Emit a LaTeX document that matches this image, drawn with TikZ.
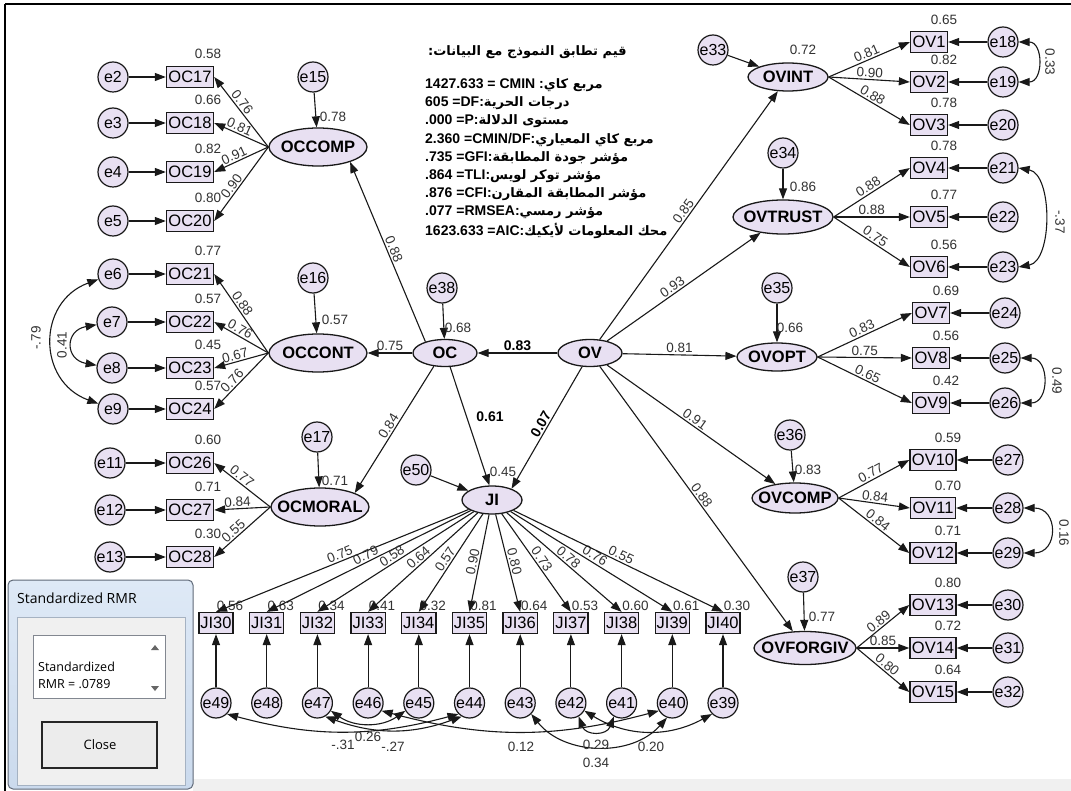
\documentclass[tikz,border=0pt]{standalone}
\usepackage{fontspec}
\setmainfont{Liberation Sans}
\newfontfamily\arfont[Script=Arabic]{DejaVu Sans}
\newfontfamily\uifont{Open Sans}
\usetikzlibrary{shapes.geometric,arrows.meta,calc}
\TeXXeTstate=1
\definecolor{fillc}{RGB}{232,224,242}
\definecolor{linec}{RGB}{25,25,25}
\definecolor{numc}{RGB}{50,50,50}
\definecolor{bandc}{RGB}{240,240,240}
\newcommand{\ctr}[1]{\makebox[0pt]{#1}}
\newcommand{\artxt}[1]{{\arfont\bfseries\fontsize{13}{13}\selectfont\beginR #1\endR}}
\tikzset{
 lat/.style={ellipse, draw=linec, line width=1.3pt, fill=fillc, inner sep=0pt, font=\bfseries\fontsize{16.5}{16.5}\selectfont},
 obs/.style={rectangle, draw=linec, line width=1.3pt, fill=fillc, inner sep=2pt, minimum height=21pt, font=\fontsize{16.5}{16.5}\selectfont},
 err/.style={circle, draw=linec, line width=1.2pt, fill=fillc, minimum size=30pt, inner sep=0pt, font=\fontsize{16}{16}\selectfont},
 num/.style={font=\fontsize{13.5}{13.5}\selectfont, text=numc, inner sep=1.5pt},
 numb/.style={font=\bfseries\fontsize{14}{14}\selectfont, text=black, inner sep=1.5pt},
 arr/.style={draw=linec, line width=1.1pt, -{Triangle[length=11pt,width=8pt]}},
 cov/.style={draw=linec, line width=1.1pt, {Triangle[length=11pt,width=8pt]}-{Triangle[length=11pt,width=8pt]}},
 fitline/.style={anchor=west, inner sep=0pt, font=\bfseries\fontsize{14}{14}\selectfont},
}
\begin{document}
\begin{tikzpicture}[x=1pt,y=-1pt]
\useasboundingbox (0,0) rectangle (1071,791);
\fill[white] (0,0) rectangle (1071,791);
\fill[bandc] (193,779) rectangle (1071,791);
\draw[line width=2.2pt] (5,4) -- (1071,4);
\draw[line width=2.2pt] (5,4) -- (5,791);

% ---------- latent variables ----------
\node[lat, minimum width=98pt, minimum height=38pt] (OCCOMP) at (318,147) {\ctr{OCCOMP}};
\node[lat, minimum width=98pt, minimum height=38pt] (OCCONT) at (318,353) {\ctr{OCCONT}};
\node[lat, minimum width=98pt, minimum height=38pt] (OCMORAL) at (320,507) {\ctr{OCMORAL}};
\node[lat, minimum width=64pt, minimum height=27pt] (OC) at (445,353) {\ctr{OC}};
\node[lat, minimum width=64pt, minimum height=27pt] (OV) at (590,353) {\ctr{OV}};
\node[lat, minimum width=60pt, minimum height=28pt] (JI) at (492,500) {\ctr{JI}};
\node[lat, minimum width=80pt, minimum height=28pt] (OVINT) at (788,77) {\ctr{OVINT}};
\node[lat, minimum width=100pt, minimum height=34pt] (OVTRUST) at (783,217) {\ctr{OVTRUST}};
\node[lat, minimum width=80pt, minimum height=28pt] (OVOPT) at (777,357) {\ctr{OVOPT}};
\node[lat, minimum width=86pt, minimum height=30pt] (OVCOMP) at (795,498) {\ctr{OVCOMP}};
\node[lat, minimum width=102pt, minimum height=33pt] (OVFORGIV) at (805,648) {\ctr{OVFORGIV}};

% ---------- disturbances ----------
\node[err] (e15) at (313,77) {\ctr{e15}};
\node[err] (e16) at (313,278) {\ctr{e16}};
\node[err] (e17) at (317,437) {\ctr{e17}};
\node[err] (e38) at (442,288) {\ctr{e38}};
\node[err] (e50) at (416,470) {\ctr{e50}};
\node[err] (e33) at (713,50) {\ctr{e33}};
\node[err] (e34) at (783,153) {\ctr{e34}};
\node[err] (e35) at (777,288) {\ctr{e35}};
\node[err] (e36) at (790,435) {\ctr{e36}};
\node[err] (e37) at (803,577) {\ctr{e37}};
\foreach \a/\b in {e15/OCCOMP, e16/OCCONT, e17/OCMORAL, e38/OC, e50/JI, e33/OVINT, e34/OVTRUST, e35/OVOPT, e36/OVCOMP, e37/OVFORGIV}
  \draw[arr] (\a) -- (\b);

\node[num] (rOCCOMP) at (333,117) {0.78};
\node[num] (rOCCONT) at (335,320) {0.57};
\node[num] (rOCMORAL) at (335,481) {0.71};
\node[num] (rOC) at (458,328) {0.68};
\node[num] (rJI) at (503,472) {0.45};
\node[num] (rOVINT) at (803,50) {0.72};
\node[num] (rOVTRUST) at (803,187) {0.86};
\node[num] (rOVOPT) at (790,328) {0.66};
\node[num] (rOVCOMP) at (808,470) {0.83};
\node[num] (rOVFORGIV) at (822,617) {0.77};

% ---------- structural paths ----------
\draw[arr] (OV) -- node[numb, above] (pOVOC) {0.83} (OC);
\draw[arr] (OC.290) -- (JI.100);
\node[numb] (pOCJI) at (490,417) {0.61};
\draw[arr] (OV.240) -- node[numb, sloped, above, pos=0.5] (pOVJI) {0.07} (JI.30);
\draw[arr] (OC) -- node[num, above] (pOCCONT) {0.75} (OCCONT);
\draw[arr] (OC.150) -- node[num, sloped, above] (pOCCOMP) {0.88} (OCCOMP.-25);
\draw[arr] (OC.230) -- node[num, sloped, above] (pOCMORAL) {0.84} (OCMORAL.22);
\draw[arr] (OV) -- node[num, sloped, above, pos=0.5] (pOVINT) {0.85} (OVINT);
\draw[arr] (OV) -- node[num, sloped, above, pos=0.45] (pOVTRUST) {0.93} (OVTRUST);
\draw[arr] (OV) -- node[num, above] (pOVOPT) {0.81} (OVOPT);
\draw[arr] (OV) -- node[num, sloped, above] (pOVCOMP) {0.91} (OVCOMP);
\draw[arr] (OV) -- node[num, sloped, above] (pOVFORGIV) {0.88} (OVFORGIV);

% ---------- OC indicators ----------
\foreach \bx/\ex/\yy/\xe/\rv/\lv/\lat in {17/2/77/113/0.58/0.76/OCCOMP, 18/3/123/113/0.66/0.81/OCCOMP, 19/4/172/113/0.82/0.91/OCCOMP, 20/5/221/113/0.80/0.90/OCCOMP,
  21/6/274/113/0.77/0.88/OCCONT, 22/7/322/112/0.57/0.76/OCCONT, 23/8/368/112/0.45/0.67/OCCONT, 24/9/409/113/0.57/0.76/OCCONT,
  26/11/463/110/0.60/0.77/OCMORAL, 27/12/510/110/0.71/0.84/OCMORAL, 28/13/557/110/0.30/0.55/OCMORAL}{
  \node[obs] (OC\bx) at (190,\yy) {OC\bx};
  \node[err] (e\ex) at (\xe,\yy) {\ctr{e\ex}};
  \node[num] (rOC\bx) at (208,\yy-23) {\rv};
  \draw[arr] (e\ex) -- (OC\bx);
  \draw[arr] (\lat.west) -- node[num, sloped, above, pos=0.58] (lOC\bx) {\lv} (OC\bx.east);
}

% ---------- OV indicators ----------
\foreach \bx/\ex/\yy/\rv/\lv/\lat/\xb/\xe in {1/18/42/0.65/0.81/OVINT/929/1003, 2/19/82/0.82/0.90/OVINT/929/1003, 3/20/125/0.78/0.88/OVINT/929/1003,
  4/21/168/0.78/0.88/OVTRUST/929/1003, 5/22/217/0.77/0.88/OVTRUST/929/1003, 6/23/267/0.56/0.75/OVTRUST/929/1003,
  7/24/313/0.69/0.83/OVOPT/931/1005, 8/25/358/0.56/0.75/OVOPT/931/1005, 9/26/403/0.42/0.65/OVOPT/931/1005,
  10/27/460/0.59/0.77/OVCOMP/933/1008, 11/28/508/0.70/0.84/OVCOMP/933/1008, 12/29/553/0.71/0.84/OVCOMP/933/1008,
  13/30/605/0.80/0.89/OVFORGIV/933/1008, 14/31/648/0.72/0.85/OVFORGIV/933/1008, 15/32/692/0.64/0.80/OVFORGIV/933/1008}{
  \node[obs] (OV\bx) at (\xb,\yy) {OV\bx};
  \node[err] (e\ex) at (\xe,\yy) {\ctr{e\ex}};
  \node[num] (rOV\bx) at (\xb+15,\yy-22) {\rv};
  \draw[arr] (e\ex) -- (OV\bx);
  \draw[arr] (\lat.east) -- node[num, sloped, above, pos=0.5] (lOV\bx) {\lv} (OV\bx.west);
}

% ---------- JI indicators ----------
\foreach \k/\rv/\lv in {0/0.56/0.75, 1/0.63/0.79, 2/0.34/0.58, 3/0.41/0.64, 4/0.32/0.57, 5/0.81/0.90, 6/0.64/0.80, 7/0.53/0.73, 8/0.60/0.78, 9/0.61/0.76, 10/0.30/0.55}{
  \pgfmathtruncatemacro{\jn}{30+\k}
  \pgfmathtruncatemacro{\en}{49-\k}
  \pgfmathsetmacro{\xx}{216+50.7*\k}
  \node[obs, inner sep=1.5pt] (JI\jn) at (\xx,623) {JI\jn};
  \node[err] (e\en) at (\xx,703) {\ctr{e\en}};
  \node[num] (rJI\jn) at (\xx+14,606) {\rv};
  \draw[arr] (e\en) -- (JI\jn);
  \draw[arr] (JI) -- node[num, sloped, above, pos=0.5] (lJI\jn) {\lv} (JI\jn.north);
}

% ---------- covariances ----------
\draw[cov] (e6.200) to[out=200,in=160,looseness=1.35] (e9.160);
\node[num, rotate=90] (c79) at (36,338) {-.79};
\draw[cov] (e7.190) to[out=190,in=170,looseness=2.05] (e8.170);
\node[num, rotate=90] (c41) at (62,345) {0.41};
\draw[cov] (e18.east) to[out=0,in=0,looseness=1.6] (e19.east);
\node[num, rotate=-90] (c33) at (1050,62) {0.33};
\draw[cov] (e21.east) to[out=-10,in=10,looseness=0.9] (e23.east);
\node[num, rotate=-90] (c37) at (1060,222) {-.37};
\draw[cov] (e25.east) to[out=0,in=0,looseness=1.66] (e26.east);
\node[num, rotate=-90] (c49) at (1057,381) {0.49};
\draw[cov] (e28.east) to[out=0,in=0,looseness=2.0] (e29.east);
\node[num, rotate=-90] (c16) at (1064,533) {0.16};

\draw[cov] (e49.south east) to[bend right=15] (e44.south west);
\draw[cov] (e47.-30) to[bend right=35] (e45.-150);
\draw[cov] (e47.-60) to[bend right=20] (e44.-120);
\draw[cov] (e46.-30) to[bend right=15] (e40.-150);
\draw[cov] (e43.-45) to[bend right=50] (e40.-110);
\draw[cov] (e42.-60) to[bend right=70,looseness=1.5] (e41.-120);
\draw[cov] (e42.-30) to[bend right=30] (e39.-135);
\node[num] (c31) at (343,745) {-.31};
\node[num] (c26) at (368,737) {0.26};
\node[num] (c27) at (393,747) {-.27};
\node[num] (c12) at (521,747) {0.12};
\node[num] (c29) at (596,745) {0.29};
\node[num] (c34) at (596,763) {0.34};
\node[num] (c20) at (651,747) {0.20};

% ---------- fit indices ----------
\node[fitline] (ft0) at (428,52) {\artxt{قيم تطابق النموذج مع البيانات:}};
\node[fitline] (ft1) at (425,85) {1427.633 = CMIN :\artxt{مربع كاي}};
\node[fitline] (ft2) at (425,103) {605 =DF:\artxt{درجات الحرية}};
\node[fitline] (ft3) at (425,121) {.000 =P:\artxt{مستوى الدلالة}};
\node[fitline] (ft4) at (425,140) {2.360 =CMIN/DF:\artxt{مربع كاي المعياري}};
\node[fitline] (ft5) at (425,158) {.735 =GFI:\artxt{مؤشر جودة المطابقة}};
\node[fitline] (ft6) at (425,176) {.864 =TLI:\artxt{مؤشر توكر لويس}};
\node[fitline] (ft7) at (425,194) {.876 =CFI:\artxt{مؤشر المطابقة المقارن}};
\node[fitline] (ft8) at (425,212) {.077 =RMSEA:\artxt{مؤشر رمسي}};
\node[fitline] (ft9) at (425,231) {1623.633 =AIC:\artxt{محك المعلومات لأيكيك}};

% ---------- dialog ----------
\draw[rounded corners=5pt, top color={rgb,255:red,222;green,233;blue,246}, bottom color={rgb,255:red,203;green,218;blue,237}, draw={rgb,255:red,95;green,105;blue,120}, line width=1pt] (8,580) rectangle (193,789);
\node[anchor=west, inner sep=0pt, font=\uifont\fontsize{14}{14}\selectfont] (dlgtitle) at (17,598) {Standardized RMR};
\draw[fill={rgb,255:red,240;green,240;blue,240}, draw={rgb,255:red,165;green,178;blue,194}] (17,617) rectangle (185,785);
\draw[fill=white, draw={rgb,255:red,130;green,135;blue,144}, line width=1pt] (33,635) rectangle (165,698);
\fill[black!60] (151,650) -- (159,650) -- (155,645) -- cycle;
\fill[black!60] (151,686) -- (159,686) -- (155,691) -- cycle;
\node[anchor=west, inner sep=0pt, font=\uifont\fontsize{12.5}{12.5}\selectfont] (dlgt1) at (38,667) {Standardized};
\node[anchor=west, inner sep=0pt, font=\uifont\fontsize{12.5}{12.5}\selectfont] (dlgt2) at (38,684) {RMR = .0789};
\draw[fill={rgb,255:red,236;green,236;blue,236}, draw=black!85, line width=1.3pt] (42,722) rectangle (157,768);
\node[font=\uifont\fontsize{13}{13}\selectfont] (dlgclose) at (100,745) {Close};
\end{tikzpicture}
\end{document}
